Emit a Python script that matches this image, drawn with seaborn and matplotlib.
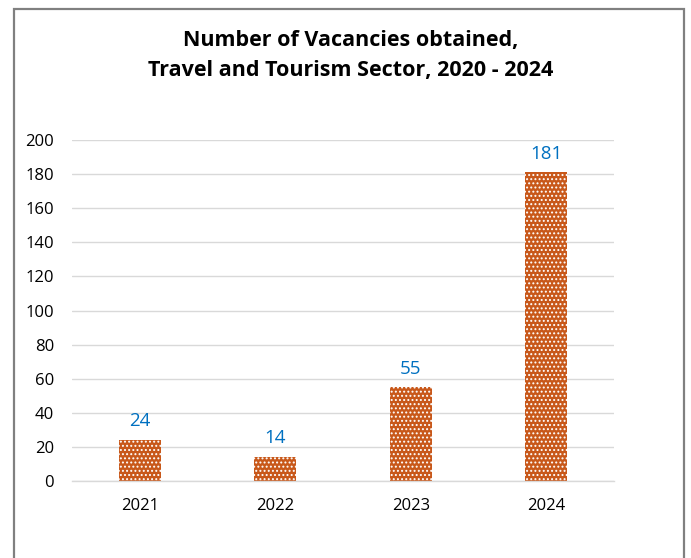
import matplotlib
matplotlib.use("Agg")
import matplotlib.pyplot as plt
import matplotlib.patches as mpatches
import seaborn as sns
import pandas as pd

years = ["2021", "2022", "2023", "2024"]
vacancies = [24, 14, 55, 181]
y_ticks = [0, 20, 40, 60, 80, 100, 120, 140, 160, 180, 200]

sns.set_theme(style="white")
plt.rcParams["font.family"] = ["Open Sans", "DejaVu Sans"]
plt.rcParams["hatch.linewidth"] = 0.9

df = pd.DataFrame({"year": years, "vacancies": vacancies})

fig = plt.figure(figsize=(6.91, 5.58), dpi=100)
ax = fig.add_axes([0.1042, 0.138, 0.7844, 0.611])

sns.barplot(data=df, x="year", y="vacancies", ax=ax, width=0.31,
            color="#C55A11", saturation=1)
for bar in ax.patches:
    bar.set_facecolor("#C8581A")
    bar.set_edgecolor("white")
    bar.set_linewidth(0)
    bar.set_hatch("....")

for bar, v in zip(ax.patches, vacancies):
    ax.annotate(str(v), (bar.get_x() + bar.get_width() / 2, v),
                xytext=(0, 7), textcoords="offset points",
                ha="center", va="bottom", fontsize=13.5, color="#0070C0")

ax.set_ylim(0, 200)
ax.set_yticks(y_ticks)
ax.set_xlim(-0.5, 3.5)
ax.yaxis.grid(True, color="#D9D9D9", linewidth=1)
ax.set_axisbelow(True)
for s in ["left", "right", "top"]:
    ax.spines[s].set_visible(False)
ax.spines["bottom"].set_color("#D9D9D9")
ax.spines["bottom"].set_linewidth(1)
ax.tick_params(axis="y", length=0, pad=13, labelsize=12, labelcolor="black")
ax.tick_params(axis="x", length=0, pad=12, labelsize=12, labelcolor="black")
ax.set_xlabel("")
ax.set_ylabel("")

fig.text(0.507, 0.928, "Number of Vacancies obtained,", ha="center", va="center",
         fontsize=15.5, fontweight="bold", color="black")
fig.text(0.507, 0.874, "Travel and Tourism Sector, 2020 - 2024", ha="center",
         va="center", fontsize=15.5, fontweight="bold", color="black")

# outer frame, open at the bottom edge of the figure
frame = mpatches.Rectangle((14 / 691, -0.05), (684 - 14) / 691, 1.05 - 9.5 / 558,
                           transform=fig.transFigure, fill=False,
                           edgecolor="#808080", linewidth=1.6)
fig.patches.append(frame)

fig.savefig("out.png", dpi=100, facecolor="white")
